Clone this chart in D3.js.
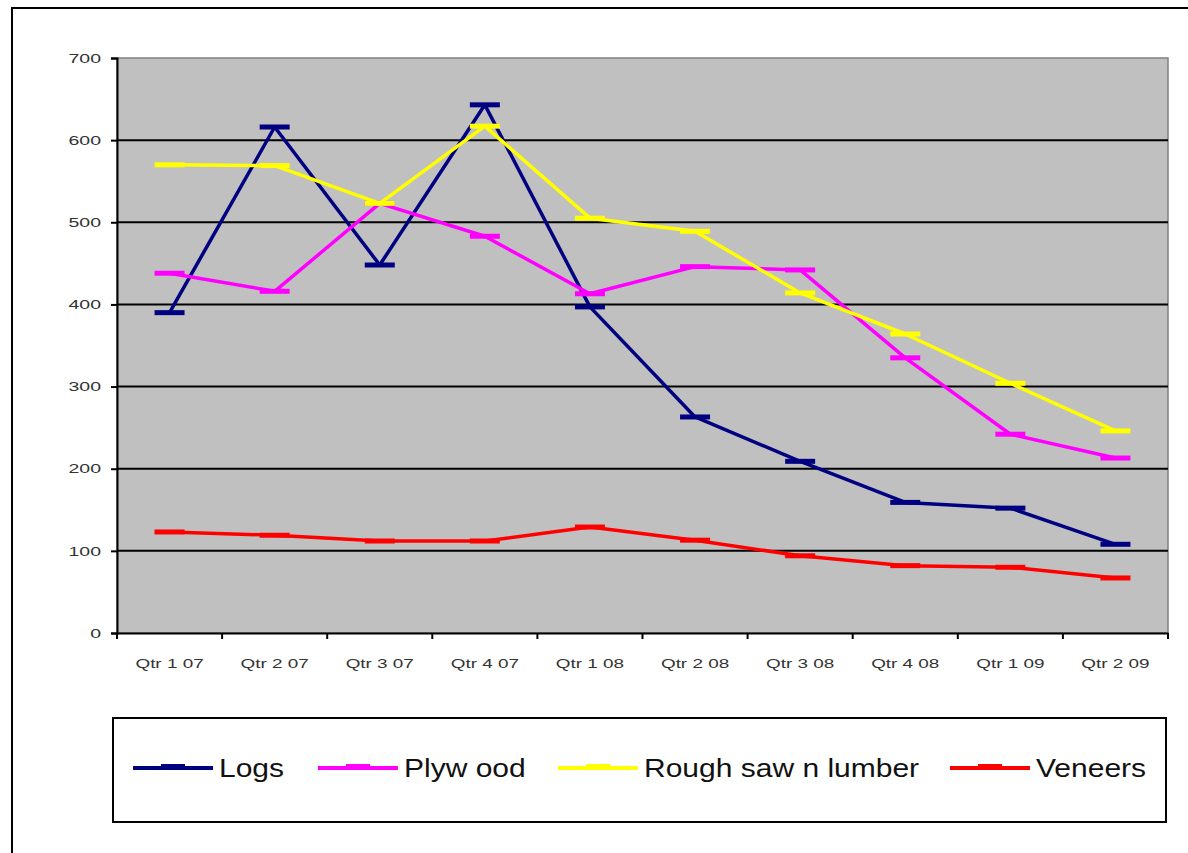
<!DOCTYPE html>
<html>
<head>
<meta charset="utf-8">
<script src="https://cdnjs.cloudflare.com/ajax/libs/d3/7.8.5/d3.min.js"></script>
<style>
  body { margin: 0; background: #fff; }
  svg { display: block; font-family: "Liberation Sans", Arial, sans-serif; }
</style>
</head>
<body>
<div id="chart"></div>
<script>
const quarters = ["Qtr 1 07", "Qtr 2 07", "Qtr 3 07", "Qtr 4 07", "Qtr 1 08", "Qtr 2 08", "Qtr 3 08", "Qtr 4 08", "Qtr 1 09", "Qtr 2 09"];
const logs = [390, 616, 448, 643, 397, 263, 209, 159, 152, 108];
const plywood = [438, 416, 523, 483, 413, 446, 442, 335, 242, 213];
const roughSawnLumber = [570, 569, 523, 617, 505, 489, 414, 364, 304, 246];
const veneers = [123, 119, 112, 112, 129, 113, 94, 82, 80, 67];
const yTicks = [0, 100, 200, 300, 400, 500, 600, 700];
const seriesNames = ["Logs", "Plyw ood", "Rough saw n lumber", "Veneers"];
const seriesColors = ["#000080", "#ff00ff", "#ffff00", "#ff0000"];

const width = 1188;
const height = 853;
const plot = { left: 117, top: 58, right: 1168, bottom: 633 };

const series = [logs, plywood, roughSawnLumber, veneers].map((values, i) => ({
    name: seriesNames[i],
    color: seriesColors[i],
    values,
}));

const svg = d3.select('#chart')
    .append('svg')
    .attr('width', width)
    .attr('height', height);

// outer frame
svg.append('rect')
    .attr('x', 12).attr('y', 8)
    .attr('width', width + 20).attr('height', height + 20)
    .attr('fill', 'none')
    .attr('stroke', '#000')
    .attr('stroke-width', 2);

const x = d3.scaleBand()
    .domain(quarters)
    .range([plot.left, plot.right]);

const y = d3.scaleLinear()
    .domain([0, 700])
    .range([plot.bottom, plot.top]);

// plot background
svg.append('rect')
    .attr('x', plot.left).attr('y', plot.top)
    .attr('width', plot.right - plot.left)
    .attr('height', plot.bottom - plot.top)
    .attr('fill', '#c0c0c0')
    .attr('stroke', '#808080')
    .attr('stroke-width', 1.5);

// gridlines
svg.append('g')
    .selectAll('line')
    .data(yTicks.filter(d => d > 0 && d < 700))
    .join('line')
    .attr('x1', plot.left).attr('x2', plot.right)
    .attr('y1', d => y(d)).attr('y2', d => y(d))
    .attr('stroke', '#000')
    .attr('stroke-width', 2);

// y axis (labels look horizontally stretched in the original)
const yAxis = svg.append('g')
    .attr('transform', `translate(${plot.left},0)`)
    .call(d3.axisLeft(y).tickValues(yTicks).tickSize(6));
yAxis.select('.domain').attr('stroke-width', 2);
yAxis.selectAll('.tick line').attr('stroke-width', 2);
yAxis.selectAll('text')
    .attr('x', -16 / 1.5)
    .attr('transform', 'scale(1.5,1)')
    .attr('font-size', '13px')
    .attr('fill', '#333');

// x axis
const xAxis = svg.append('g')
    .attr('transform', `translate(0,${plot.bottom})`)
    .call(d3.axisBottom(x).tickSize(0).tickPadding(25));
xAxis.select('.domain').attr('stroke-width', 2);
xAxis.selectAll('text')
    .attr('transform', 'scale(1.4,1)')
    .attr('font-size', '13.5px')
    .attr('fill', '#333');

svg.append('g')
    .selectAll('line')
    .data(quarters.concat([null]))
    .join('line')
    .attr('x1', (d, i) => plot.left + i * x.bandwidth())
    .attr('x2', (d, i) => plot.left + i * x.bandwidth())
    .attr('y1', plot.bottom).attr('y2', plot.bottom + 6)
    .attr('stroke', '#000')
    .attr('stroke-width', 2);

// lines
const line = d3.line()
    .x((d, i) => x(quarters[i]) + x.bandwidth() / 2)
    .y(d => y(d));

const seriesGroups = svg.append('g')
    .selectAll('g')
    .data(series)
    .join('g');

seriesGroups.append('path')
    .attr('d', d => line(d.values))
    .attr('fill', 'none')
    .attr('stroke', d => d.color)
    .attr('stroke-width', 3.5)
    .attr('stroke-linejoin', 'round');

seriesGroups.selectAll('rect')
    .data(d => d.values.map((v, i) => ({ v, i, color: d.color })))
    .join('rect')
    .attr('x', d => x(quarters[d.i]) + x.bandwidth() / 2 - 15)
    .attr('y', d => y(d.v) - 2.5)
    .attr('width', 30)
    .attr('height', 5)
    .attr('fill', d => d.color);

// legend
const legend = { left: 113, top: 718, right: 1166, bottom: 822 };
svg.append('rect')
    .attr('x', legend.left).attr('y', legend.top)
    .attr('width', legend.right - legend.left)
    .attr('height', legend.bottom - legend.top)
    .attr('fill', '#fff')
    .attr('stroke', '#000')
    .attr('stroke-width', 2);

const legendX = [133, 318, 558, 950];
const legendY = 768;
const legendItems = svg.append('g')
    .selectAll('g')
    .data(series)
    .join('g')
    .attr('transform', (d, i) => `translate(${legendX[i]},${legendY})`);

legendItems.append('line')
    .attr('x1', 0).attr('x2', 80)
    .attr('y1', 0).attr('y2', 0)
    .attr('stroke', d => d.color)
    .attr('stroke-width', 4);

legendItems.append('rect')
    .attr('x', 28).attr('y', -4)
    .attr('width', 24).attr('height', 5)
    .attr('fill', d => d.color);

legendItems.append('text')
    .attr('transform', 'translate(86,9) scale(1.2,1)')
    .attr('font-size', '25px')
    .attr('fill', '#111')
    .text(d => d.name);
</script>
</body>
</html>
